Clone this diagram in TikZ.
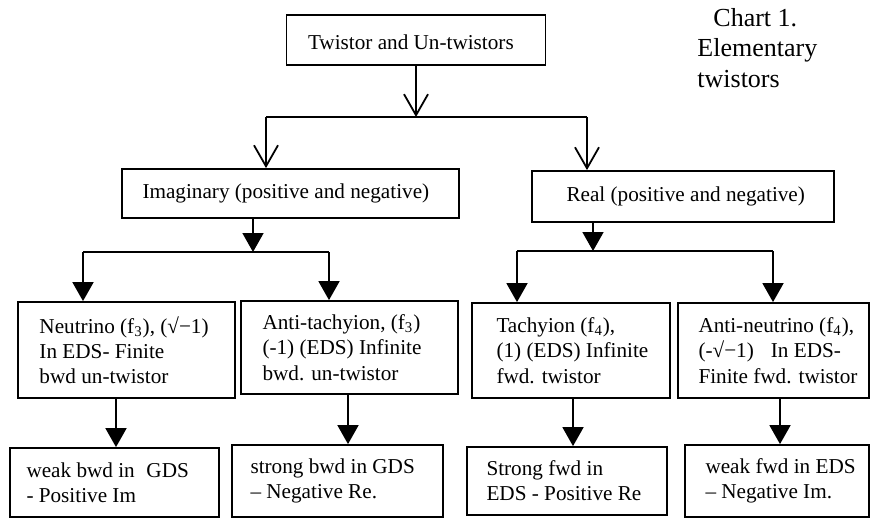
\documentclass[tikz,border=0pt]{standalone}
\usepackage{fontspec}
\setmainfont{Liberation Serif}
\usetikzlibrary{arrows.meta}
\begin{document}
\begin{tikzpicture}[x=0.5pt,y=-0.5pt,
  box/.style={draw, line width=0.9pt, rectangle, inner sep=0pt},
  txt/.style={anchor=west, align=left, inner sep=0pt, font=\fontsize{10.6}{12.6}\selectfont},
  conn/.style={line width=0.9pt},
  openarr/.style={line width=0.9pt, -{Straight Barb[length=10.5pt,width=12pt,line width=0.9pt]}},
  fillarr/.style={line width=0.9pt, -{Triangle[length=9.5pt,width=10.5pt]}},
  ttl/.style={anchor=base west, inner sep=0pt, font=\fontsize{13}{15}\selectfont}]
\useasboundingbox (0,0) rectangle (872,519);

% title
\node[ttl] (ttl1) at (713,27) {Chart 1.};
\node[ttl] (ttl2) at (697,57) {Elementary};
\node[ttl] (ttl3) at (697,88) {twistors};

% boxes
\node[box, minimum width=129.5pt, minimum height=25pt] (top) at (416,40) {};
\node[txt] (topt) at ([xshift=11pt,yshift=-1pt]top.west) {Twistor and Un-twistors};

\node[box, minimum width=168.5pt, minimum height=24.5pt] (imag) at (290.5,193.5) {};
\node[txt] (imagt) at ([xshift=10.5pt]imag.west) {Imaginary (positive and negative)};

\node[box, minimum width=151pt, minimum height=25.5pt] (real) at (683,196.5) {};
\node[txt] (realt) at ([xshift=17.5pt]real.west) {Real (positive and negative)};

\node[box, minimum width=108.5pt, minimum height=48pt] (n1) at (126.5,350) {};
\node[txt] (n1t) at ([xshift=11pt]n1.west) {Neutrino (f\textsubscript{3}), (√−1)\\In EDS- Finite\\bwd un-twistor};

\node[box, minimum width=108.5pt, minimum height=46.5pt] (n2) at (349.5,347.5) {};
\node[txt] (n2t) at ([xshift=11pt]n2.west) {Anti-tachyion, (f\textsubscript{3})\\(-1) (EDS) Infinite\\bwd. un-twistor};

\node[box, minimum width=99pt, minimum height=47.5pt] (n3) at (571,350.5) {};
\node[txt] (n3t) at ([xshift=12.5pt]n3.west) {Tachyion (f\textsubscript{4}),\\(1) (EDS) Infinite\\fwd. twistor};

\node[box, minimum width=95.5pt, minimum height=47.5pt] (n4) at (773.5,350.5) {};
\node[txt] (n4t) at ([xshift=10.5pt]n4.west) {Anti-neutrino (f\textsubscript{4}),\\(-√−1)\hspace{0.8em}In EDS-\\Finite fwd. twistor};

\node[box, minimum width=104.5pt, minimum height=34.5pt] (b1) at (114.5,482.5) {};
\node[txt] (b1t) at ([xshift=8.5pt]b1.west) {weak bwd in\hspace{0.55em}GDS\\- Positive Im};

\node[box, minimum width=105.5pt, minimum height=36pt] (b2) at (337.5,481) {};
\node[txt] (b2t) at ([xshift=9.5pt]b2.west) {strong bwd in GDS\\– Negative Re.};

\node[box, minimum width=100pt, minimum height=34pt] (b3) at (567,481) {};
\node[txt] (b3t) at ([xshift=10pt]b3.west) {Strong fwd in\\EDS - Positive Re};

\node[box, minimum width=92pt, minimum height=36pt] (b4) at (777,481) {};
\node[txt] (b4t) at ([xshift=10.5pt]b4.west) {weak fwd in EDS\\– Negative Im.};

% junction coordinates
\coordinate (h1L) at (266,117);
\coordinate (h1R) at (587,117);
\coordinate (h2) at (253,252);
\coordinate (h2L) at (83,252);
\coordinate (h2R) at (329,252);
\coordinate (h3) at (593,251);
\coordinate (h3L) at (517,251);
\coordinate (h3R) at (773,251);
\coordinate (c1) at (116,420);
\coordinate (c2) at (348,420);
\coordinate (c3) at (573,420);
\coordinate (c4) at (780,420);

% connectors
\draw[openarr] (top) -- (top |- h1L);
\draw[conn] (h1L) -- (h1R);
\draw[openarr] (h1L) -- (h1L |- imag.north);
\draw[openarr] (h1R) -- (h1R |- real.north);

\draw[fillarr] (imag.south -| h2) -- (h2);
\draw[conn] (h2L) -- (h2R);
\draw[fillarr] (h2L) -- (h2L |- n1.north);
\draw[fillarr] (h2R) -- (h2R |- n2.north);

\draw[fillarr] (real.south -| h3) -- (h3);
\draw[conn] (h3L) -- (h3R);
\draw[fillarr] (h3L) -- (h3L |- n3.north);
\draw[fillarr] (h3R) -- (h3R |- n4.north);

\draw[fillarr] (n1.south -| c1) -- (c1 |- b1.north);
\draw[fillarr] (n2.south -| c2) -- (c2 |- b2.north);
\draw[fillarr] (n3.south -| c3) -- (c3 |- b3.north);
\draw[fillarr] (n4.south -| c4) -- (c4 |- b4.north);
\end{tikzpicture}
\end{document}
